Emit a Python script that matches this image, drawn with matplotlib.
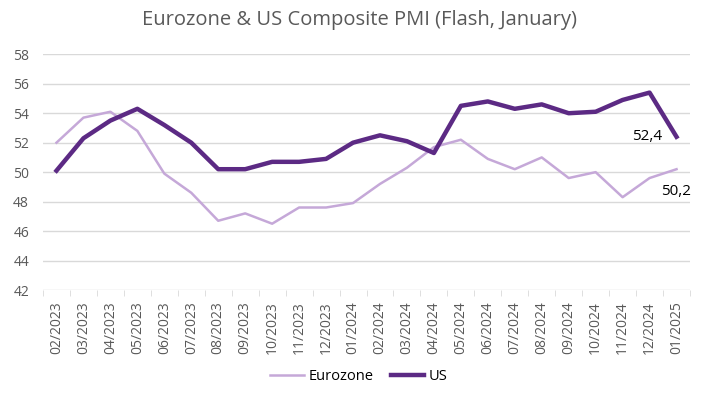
import numpy as np
import matplotlib.pyplot as plt

plt.rcParams['font.family'] = ['Open Sans', 'DejaVu Sans']

months = ['02/2023', '03/2023', '04/2023', '05/2023', '06/2023', '07/2023',
          '08/2023', '09/2023', '10/2023', '11/2023', '12/2023', '01/2024',
          '02/2024', '03/2024', '04/2024', '05/2024', '06/2024', '07/2024',
          '08/2024', '09/2024', '10/2024', '11/2024', '12/2024', '01/2025']
eurozone = [52.0, 53.7, 54.1, 52.8, 49.9, 48.6, 46.7, 47.2, 46.5, 47.6, 47.6, 47.9,
            49.2, 50.3, 51.7, 52.2, 50.9, 50.2, 51.0, 49.6, 50.0, 48.3, 49.6, 50.2]
us = [50.1, 52.3, 53.5, 54.3, 53.2, 52.0, 50.2, 50.2, 50.7, 50.7, 50.9, 52.0,
      52.5, 52.1, 51.3, 54.5, 54.8, 54.3, 54.6, 54.0, 54.1, 54.9, 55.4, 52.4]

W, H = 720, 394
fig = plt.figure(figsize=(7.2, 3.94), dpi=100)
ax = fig.add_axes([43 / W, 1 - 290 / H, (690 - 43) / W, (290 - 54.3) / H])

x = np.arange(len(months))
ax.plot(x, eurozone, color='#C5A8D8', lw=1.8, label='Eurozone')
ax.plot(x, us, color='#5C2A84', lw=3.2, label='US')

ax.set_xlim(-0.5, len(months) - 0.5)
ax.set_ylim(42, 58)
ax.set_yticks(range(42, 59, 2))
ax.yaxis.grid(True, color='#D9D9D9', lw=1)
ax.set_axisbelow(True)
for s in ax.spines.values():
    s.set_visible(False)
ax.tick_params(axis='y', length=0, labelsize=10, colors='#595959', pad=10)

ax.set_xticks(x)
ax.set_xticklabels(months, rotation=90, fontsize=10, color='#595959')
ax.tick_params(axis='x', length=0, pad=8)
ax.set_xticks(np.arange(-0.5, len(months)), minor=True)
ax.tick_params(axis='x', which='minor', length=4, color='#D9D9D9')

ax.annotate('52,4', (x[-1], us[-1]), xytext=(-10, 0), textcoords='offset points',
            ha='right', va='center', fontsize=11, color='black')
ax.annotate('50,2', (x[-1], eurozone[-1]), xytext=(0, -16), textcoords='offset points',
            ha='center', va='center', fontsize=11, color='black')

fig.suptitle('Eurozone & US Composite PMI (Flash, January)', y=1 - 20 / H,
             va='center', fontsize=14.5, color='#595959')
fig.legend(loc='center', bbox_to_anchor=(359 / W, 1 - 377 / H), ncol=2, frameon=False,
           fontsize=10.5, handlelength=2.3, columnspacing=1.2, handletextpad=0.3)

fig.savefig('out.png', dpi=100)
